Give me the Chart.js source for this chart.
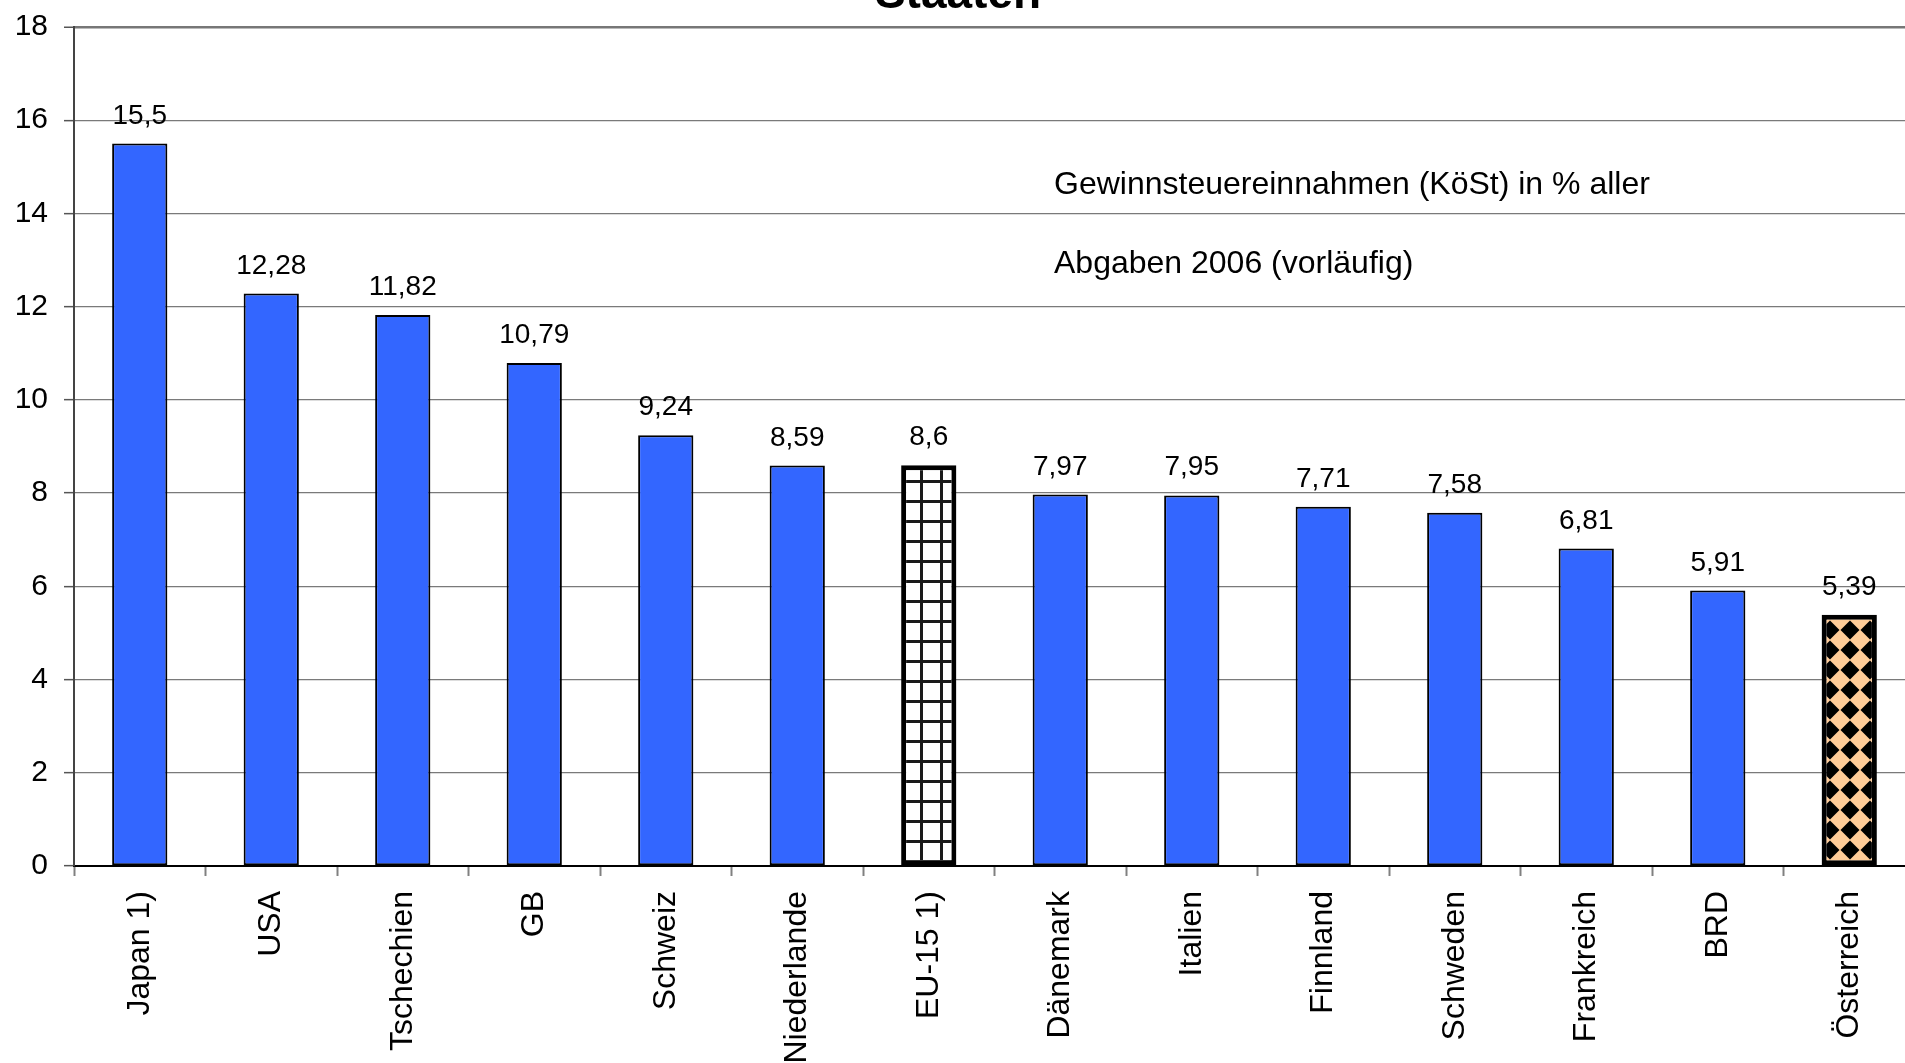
<!DOCTYPE html>
<html>
<head>
<meta charset="utf-8">
<script src="https://cdn.jsdelivr.net/npm/chart.js@4.4.1/dist/chart.umd.min.js"></script>
<style>
  html, body { margin: 0; padding: 0; background: #fff; overflow: hidden; }
  #wrap { width: 1905px; height: 1063px; overflow: hidden; }
</style>
</head>
<body>
<div id="wrap">
  <canvas id="steuer" width="1925" height="1063"></canvas>
</div>
<script>
// Gewinnsteuereinnahmen (KöSt) in % aller Abgaben 2006
const categories = ['Japan 1)', 'USA', 'Tschechien', 'GB', 'Schweiz', 'Niederlande', 'EU-15 1)',
  'Dänemark', 'Italien', 'Finnland', 'Schweden', 'Frankreich', 'BRD', 'Österreich'];
const shares = [15.5, 12.28, 11.82, 10.79, 9.24, 8.59, 8.6, 7.97, 7.95, 7.71, 7.58, 6.81, 5.91, 5.39];
const yTicks = [0, 2, 4, 6, 8, 10, 12, 14, 16, 18];
const titleText = 'Staaten';
const noteLines = ['Gewinnsteuereinnahmen (KöSt) in % aller', 'Abgaben 2006 (vorläufig)'];

const FONT = '"Liberation Sans", Arial, sans-serif';

// hatch for EU-15: white with black square grid
function gridPattern() {
  const s = 20;
  const c = document.createElement('canvas');
  c.width = s; c.height = s;
  const g = c.getContext('2d');
  g.fillStyle = '#fff';
  g.fillRect(0, 0, s, s);
  g.fillStyle = '#1a1a1a';
  g.fillRect(0, 0, 3, s);
  g.fillRect(0, 0, s, 3);
  return g.createPattern(c, 'repeat');
}

// Österreich: peach with black diamonds
function diamondPattern() {
  const s = 20;
  const c = document.createElement('canvas');
  c.width = s; c.height = s;
  const g = c.getContext('2d');
  g.fillStyle = '#FFCC99';
  g.fillRect(0, 0, s, s);
  g.fillStyle = '#000';
  g.beginPath();
  g.moveTo(s / 2, 0.5);
  g.lineTo(s - 0.5, s / 2);
  g.lineTo(s / 2, s - 0.5);
  g.lineTo(0.5, s / 2);
  g.closePath();
  g.fill();
  return g.createPattern(c, 'repeat');
}

const fills = categories.map(c => {
  if (c === 'EU-15 1)') return gridPattern();
  if (c === 'Österreich') return diamondPattern();
  return '#3366FF';
});
const borders = categories.map(c => (c === 'EU-15 1)' || c === 'Österreich') ? 5 : 2);

// value labels above bars, german decimal comma
const valueLabels = {
  id: 'valueLabels',
  afterDatasetsDraw(chart) {
    const ctx = chart.ctx;
    const meta = chart.getDatasetMeta(0);
    ctx.save();
    ctx.font = '28px ' + FONT;
    ctx.fillStyle = '#000';
    ctx.textAlign = 'center';
    ctx.textBaseline = 'alphabetic';
    meta.data.forEach((bar, i) => {
      ctx.fillText(String(shares[i]).replace('.', ','), bar.x, bar.y - 20);
    });
    ctx.restore();
  }
};

// clipped title and the note text
const texts = {
  id: 'texts',
  afterDraw(chart) {
    const ctx = chart.ctx;
    ctx.save();
    ctx.fillStyle = '#000';
    ctx.textAlign = 'center';
    ctx.textBaseline = 'alphabetic';
    ctx.font = 'bold 46px ' + FONT;
    ctx.fillText(titleText, 958, 8);
    ctx.textAlign = 'left';
    ctx.font = '32px ' + FONT;
    ctx.fillText(noteLines[0], 1054, 194);
    ctx.fillText(noteLines[1], 1054, 273);
    ctx.restore();
  }
};

new Chart(document.getElementById('steuer'), {
  type: 'bar',
  data: {
    labels: categories,
    datasets: [{
      data: shares,
      backgroundColor: fills,
      borderColor: '#000',
      borderWidth: borders,
      borderSkipped: false,
      barPercentage: 0.42,
      categoryPercentage: 1
    }]
  },
  options: {
    responsive: false,
    animation: false,
    devicePixelRatio: 1,
    layout: { padding: { left: 0, top: 27, right: 10, bottom: 0 } },
    plugins: {
      legend: { display: false },
      tooltip: { enabled: false },
      title: { display: false }
    },
    scales: {
      x: {
        // axis band fixed so the baseline sits where the original has it
        afterFit(scale) {
          scale.height = 197;
          scale.paddingLeft = 0;
          scale.paddingRight = 0;
        },
        grid: {
          offset: true,
          drawOnChartArea: false,
          drawTicks: true,
          tickLength: 10,
          tickColor: '#808080',
          tickWidth: 2
        },
        border: { color: '#000', width: 2 },
        ticks: {
          color: '#000',
          font: { family: FONT, size: 32 },
          maxRotation: 90,
          minRotation: 90,
          padding: 15,
          autoSkip: false
        }
      },
      y: {
        min: 0,
        max: 18,
        afterBuildTicks(scale) {
          scale.ticks = yTicks.map(v => ({ value: v }));
        },
        afterFit(scale) {
          scale.width = 74;
          scale.paddingTop = 0;
          scale.paddingBottom = 0;
        },
        grid: {
          color: ctx => ctx.tick && ctx.tick.value === 18 ? '#777' : '#7a7a7a',
          lineWidth: ctx => ctx.tick && ctx.tick.value === 18 ? 2.5 : 1.3,
          tickLength: 10,
          tickColor: '#555',
          tickWidth: 1.5
        },
        border: { color: '#444', width: 2 },
        ticks: {
          color: '#000',
          font: { family: FONT, size: 30 },
          padding: 16
        }
      }
    }
  },
  plugins: [valueLabels, texts]
});
</script>
</body>
</html>
